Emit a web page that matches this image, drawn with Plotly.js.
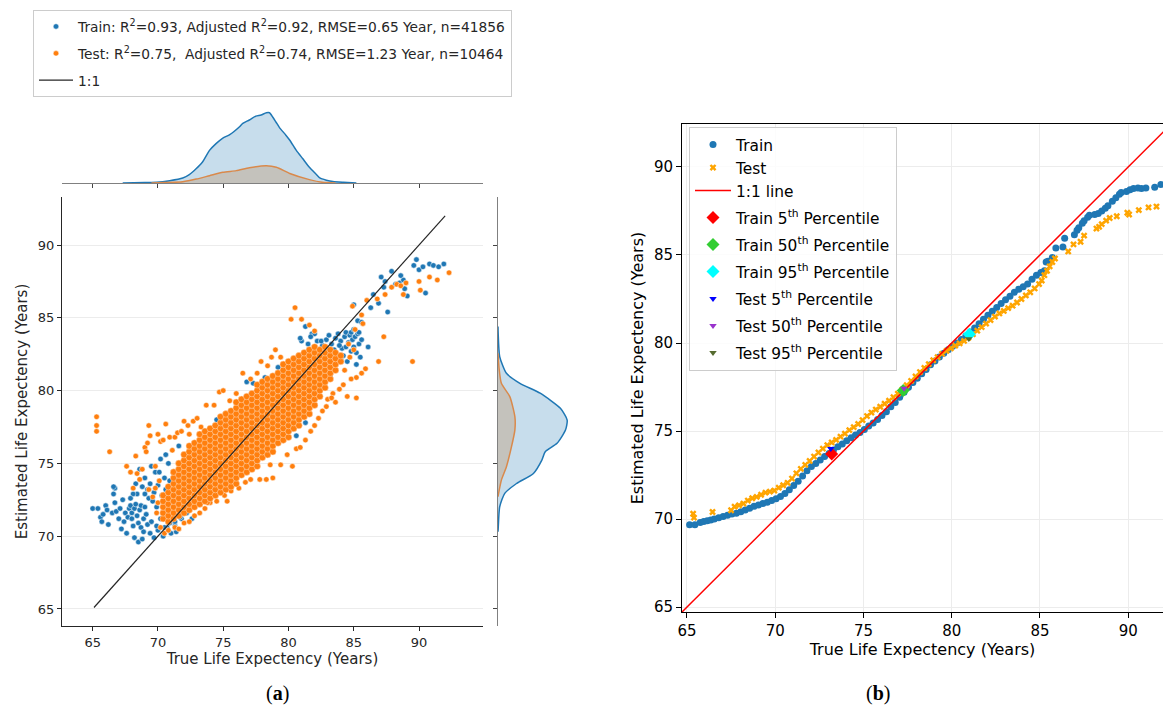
<!DOCTYPE html>
<html><head><meta charset="utf-8">
<script src="https://cdn.plot.ly/plotly-3.0.1.min.js"></script>
<style>html,body{margin:0;padding:0;background:#fff}#chart{width:1163px;height:718px}</style>
</head><body><div id="chart"></div>
<script>
// ---------- Panel (a): scatter of true vs estimated (visible train points) ----------
const trainPts = [
[65.0,71.9],[65.4,71.9],[65.6,71.3],[65.7,71.0],[65.8,71.5],[66.0,72.1],[66.1,71.8],[66.2,70.8],[66.5,71.6],[66.7,72.3],[66.8,71.7],[66.7,73.3],[66.6,72.9],[67.2,70.5],[67.4,71.0],[67.5,71.6],[67.6,70.2],[67.7,71.3],[67.8,71.9],[67.9,72.1],[68.0,71.6],[68.0,71.2],[68.1,70.7],[68.2,71.9],[68.2,69.9],[68.3,72.2],[68.4,71.4],[68.5,70.9],[68.5,69.6],[68.6,71.8],[68.7,72.1],[68.7,70.6],[68.8,69.8],[68.9,71.2],[69.0,72.0],[69.1,71.5],[69.2,70.8],[69.2,73.2],[69.3,72.6],[69.4,73.6],[69.4,70.2],[69.5,71.0],[69.6,72.4],[69.7,69.9],[69.7,73.0],[69.8,74.4],[69.9,72.0],[70.0,70.4],[70.0,73.5],[70.1,74.4],[70.2,71.2],[70.3,72.8],[70.4,70.0],[70.5,74.0],[70.6,73.2],[70.7,70.6],[70.8,75.0],[70.9,73.8],[71.0,70.2],[71.2,74.3],[71.3,70.7],[71.5,73.9],[71.6,76.2],[71.8,71.2],[68.6,74.6],[69.0,74.0],[68.4,72.9],[69.0,72.9],[68.1,72.9],[68.3,73.6],[67.9,72.6],[68.8,73.4],[69.5,74.8],[70.2,75.3],[70.6,75.6],[66.6,73.4],[67.1,71.9],[67.3,72.5],[67.0,71.2],[68.9,70.3],[69.9,70.7],[70.5,70.6],[70.9,70.9],[71.3,71.0],[71.7,71.3],[72.2,71.6],[71.4,70.3],[72.6,71.2],
[81.2,82.6],[81.5,83.2],[81.8,83.9],[82.2,83.4],[82.6,83.1],[82.9,83.5],[83.1,83.8],[83.3,83.2],[83.5,82.8],[83.6,83.6],[83.8,83.9],[84.0,83.4],[84.1,82.9],[84.3,83.7],[84.4,84.0],[84.6,83.3],[84.7,83.8],[84.8,84.0],[84.9,83.5],[85.0,83.0],[85.1,83.7],[85.2,82.6],[85.3,83.9],[85.4,83.2],[85.5,82.3],[85.6,83.5],[84.2,82.4],[83.7,82.3],[83.0,82.6],[85.0,85.9],[85.3,84.8],[85.6,84.7],[86.1,83.0],[85.2,81.8],[84.5,82.0],[80.2,81.6],[80.6,82.0],[81.0,83.4],[80.9,83.6],[81.3,84.4],[82.0,83.9],[82.5,83.4],[81.7,83.7],[83.9,83.1],[84.4,83.0],[85.0,84.2],[84.0,82.1],[83.4,82.4],[84.8,82.7],[85.4,84.0],
[86.5,86.6],[86.9,86.0],[87.1,87.8],[87.3,87.1],[87.6,85.4],[87.9,88.2],[88.2,87.3],[88.5,87.4],[88.8,87.6],[88.9,87.0],[89.1,86.5],[89.6,88.6],[89.8,89.0],[90.0,88.3],[90.3,88.5],[90.5,86.7],[90.8,88.7],[91.1,88.6],[91.5,88.5],[91.9,88.7],[88.6,87.9],[86.3,85.7],[87.4,87.5],
[74.5,78.0],[75.5,77.9],[76.8,80.6],[77.3,80.5],[73.2,76.6],[72.8,76.0],[80.1,77.3],[80.6,76.9],[81.3,77.8],[78.2,80.9],[79.2,81.6],[77.8,80.3],[73.8,73.0],[75.0,73.8],[76.5,74.6],[79.0,76.6],[82.0,79.0],[82.6,80.2],[83.2,81.0]
];
// dense core of the test cloud, read column by column: [true value, [estimated values]]
const testCols = [
[70.4,[71.2,71.6,72.0,72.4,72.8]],
[70.8,[71.0,71.4,71.8,72.2,72.6,73.0,73.4]],
[71.2,[71.2,71.6,72.0,72.4,72.8,73.2,73.6,74.0,74.4]],
[71.6,[71.4,71.8,72.2,72.6,73.0,73.4,73.8,74.2,74.6,75.0]],
[72.0,[71.6,72.0,72.4,72.8,73.2,73.6,74.0,74.4,74.8,75.2,75.6]],
[72.4,[71.8,72.2,72.6,73.0,73.4,73.8,74.2,74.6,75.0,75.4,75.8,76.2]],
[72.8,[72.0,72.4,72.8,73.2,73.6,74.0,74.4,74.8,75.2,75.6,76.0,76.4]],
[73.2,[72.2,72.6,73.0,73.4,73.8,74.2,74.6,75.0,75.4,75.8,76.2,76.6,77.0]],
[73.6,[72.4,72.8,73.2,73.6,74.0,74.4,74.8,75.2,75.6,76.0,76.4,76.8,77.2]],
[74.0,[72.6,73.0,73.4,73.8,74.2,74.6,75.0,75.4,75.8,76.2,76.6,77.0,77.4]],
[74.4,[72.8,73.2,73.6,74.0,74.4,74.8,75.2,75.6,76.0,76.4,76.8,77.2,77.6]],
[74.8,[73.0,73.4,73.8,74.2,74.6,75.0,75.4,75.8,76.2,76.6,77.0,77.4,77.8,78.2]],
[75.2,[73.2,73.6,74.0,74.4,74.8,75.2,75.6,76.0,76.4,76.8,77.2,77.6,78.0,78.4]],
[75.6,[73.4,73.8,74.2,74.6,75.0,75.4,75.8,76.2,76.6,77.0,77.4,77.8,78.2,78.6]],
[76.0,[73.6,74.0,74.4,74.8,75.2,75.6,76.0,76.4,76.8,77.2,77.6,78.0,78.4,78.8,79.2]],
[76.4,[74.2,74.6,75.0,75.4,75.8,76.2,76.6,77.0,77.4,77.8,78.2,78.6,79.0,79.4]],
[76.8,[74.4,74.8,75.2,75.6,76.0,76.4,76.8,77.2,77.6,78.0,78.4,78.8,79.2,79.6]],
[77.2,[74.6,75.0,75.4,75.8,76.2,76.6,77.0,77.4,77.8,78.2,78.6,79.0,79.4,79.8]],
[77.6,[74.8,75.2,75.6,76.0,76.4,76.8,77.2,77.6,78.0,78.4,78.8,79.2,79.6,80.0,80.4]],
[78.0,[75.4,75.8,76.2,76.6,77.0,77.4,77.8,78.2,78.6,79.0,79.4,79.8,80.2,80.6]],
[78.4,[75.6,76.0,76.4,76.8,77.2,77.6,78.0,78.4,78.8,79.2,79.6,80.0,80.4,80.8]],
[78.8,[75.8,76.2,76.6,77.0,77.4,77.8,78.2,78.6,79.0,79.4,79.8,80.2,80.6,81.0]],
[79.2,[76.4,76.8,77.2,77.6,78.0,78.4,78.8,79.2,79.6,80.0,80.4,80.8,81.2]],
[79.6,[76.6,77.0,77.4,77.8,78.2,78.6,79.0,79.4,79.8,80.2,80.6,81.0,81.4,81.8]],
[80.0,[76.8,77.2,77.6,78.0,78.4,78.8,79.2,79.6,80.0,80.4,80.8,81.2,81.6,82.0]],
[80.4,[77.4,77.8,78.2,78.6,79.0,79.4,79.8,80.2,80.6,81.0,81.4,81.8,82.2]],
[80.8,[77.6,78.0,78.4,78.8,79.2,79.6,80.0,80.4,80.8,81.2,81.6,82.0,82.4]],
[81.2,[78.2,78.6,79.0,79.4,79.8,80.2,80.6,81.0,81.4,81.8,82.2,82.6]],
[81.6,[78.4,78.8,79.2,79.6,80.0,80.4,80.8,81.2,81.6,82.0,82.4,82.8]],
[82.0,[79.0,79.4,79.8,80.2,80.6,81.0,81.4,81.8,82.2,82.6,83.0]],
[82.4,[79.6,80.0,80.4,80.8,81.2,81.6,82.0,82.4,82.8]],
[82.8,[80.2,80.6,81.0,81.4,81.8,82.2,82.6,83.0]],
[83.2,[80.8,81.2,81.6,82.0,82.4,82.8]],
[83.6,[81.4,81.8,82.2,82.6]],
[84.0,[82.0,82.4]]
];
// scattered test points outside the dense core
const testOut = [
[65.3,78.2],[65.3,77.6],[65.3,77.2],[66.3,75.8],[67.6,74.8],[67.9,74.4],[68.1,73.3],[68.3,75.5],[68.4,74.3],[68.6,73.9],[68.8,74.6],[69.0,76.1],[69.1,75.8],[69.2,76.4],[69.3,77.6],[69.4,76.9],[69.3,73.2],[69.6,72.7],[69.8,74.8],[70.0,77.0],[70.2,76.5],[70.4,76.6],[70.6,77.7],[70.9,76.8],[71.1,75.9],[71.3,76.8],[71.5,77.1],[71.8,77.2],[72.0,77.9],[72.3,77.6],[72.4,77.0],[72.7,77.9],[73.0,78.1],[73.3,77.5],[73.7,79.0],[74.3,79.0],[74.7,79.9],[75.0,80.0],[75.5,79.3],[76.0,79.8],[76.5,81.2],[77.1,80.8],[77.6,81.2],[77.9,82.0],[78.4,81.7],[78.7,82.3],[79.0,82.8],[79.4,82.3],[80.2,84.9],[80.5,85.7],[81.0,84.9],[81.6,84.5],[82.0,84.1],[84.9,85.8],[85.6,85.2],[85.7,84.6],[86.0,86.2],[86.8,86.3],[87.4,86.6],[87.9,87.1],[88.3,87.3],[88.6,87.2],[89.0,87.4],[88.8,86.6],[90.0,87.5],[90.1,86.9],[90.8,87.8],[91.4,87.6],[92.3,88.1],[89.5,82.0],[87.3,83.7],[86.9,82.0],[85.9,81.5],[85.6,81.2],[85.2,80.9],[85.2,79.5],[84.5,79.6],[84.2,80.4],[84.8,80.8],[85.0,82.8],[84.6,83.2],[85.1,84.2],[84.7,82.3],[84.3,81.4],[83.9,80.1],[83.4,79.8],[83.6,79.2],[83.0,79.4],
[70.2,70.6],[70.5,70.2],[70.8,70.4],[71.3,70.6],[71.6,70.5],[72.0,70.9],[72.4,71.0],[72.8,71.4],[73.2,71.6],[73.6,71.9],[74.0,72.3],[74.5,72.4],[75.1,72.8],[75.6,73.1],[76.2,73.3],[76.7,73.7],[77.1,73.9],[77.8,73.9],[78.3,73.9],[78.8,74.0],[78.6,74.9],[79.4,74.9],[80.3,74.8],[79.9,75.6],[80.6,76.0],[80.9,76.1],[81.3,76.6],[81.7,77.2],[82.0,77.6],[82.3,78.1],[82.6,78.6],[82.9,78.9],[83.3,79.5],[75.3,72.4],[73.8,72.3],[70.1,73.8],[69.8,73.3],[70.0,72.3],[69.9,71.6]
];
const oneToOneA = [65.1, 92.0];

// ---------- marginal KDEs ----------
const topTrainX = [67.3,69.0,69.9,70.9,71.9,72.4,72.9,73.4,73.95,74.45,74.97,75.5,76.25,76.5,77.0,77.5,77.9,78.3,78.55,78.8,79.05,79.3,79.8,80.1,80.6,81.1,81.6,82.1,82.4,82.9,83.4,84.2,85.2];
const topTrainD = [0,0.0008,0.0012,0.0042,0.009,0.015,0.025,0.037,0.058,0.070,0.080,0.086,0.100,0.106,0.112,0.119,0.121,0.125,0.125,0.117,0.108,0.099,0.085,0.076,0.058,0.043,0.028,0.016,0.009,0.005,0.0025,0.0012,0];
const topTestX = [69.5,70.5,71.9,72.93,73.95,74.97,76.0,77.0,78.3,79.07,80.1,81.6,82.6,83.6];
const topTestD = [0,0.0008,0.0024,0.007,0.013,0.019,0.022,0.027,0.0305,0.028,0.017,0.006,0.0012,0];
const rightTrainY = [70.3,70.64,72.02,72.94,73.62,74.31,75.23,75.8,76.38,77.29,77.98,78.78,79.82,80.5,81.19,82.34,83.94,84.4];
const rightTrainD = [0,0.0005,0.003,0.012,0.033,0.063,0.078,0.084,0.105,0.120,0.123,0.111,0.075,0.039,0.015,0.003,0.0003,0];
const rightTestY = [72.71,73.85,74.77,76.15,77.29,78.21,79.59,80.5,81.5,82.57];
const rightTestD = [0,0.006,0.015,0.024,0.030,0.030,0.021,0.006,0.002,0];

// ---------- Panel (b): sorted quantiles ----------
const qqTrainTrue = [65.15,65.45,65.75,65.95,66.15,66.35,66.55,66.8,67.05,67.3,67.55,67.8,68.05,68.3,68.55,68.8,69.05,69.3,69.55,69.8,70.05,70.3,70.55,70.8,71.05,71.3,71.55,71.8,72.05,72.3,72.55,72.8,73.05,73.3,73.55,73.8,74.05,74.3,74.55,74.8,75.05,75.3,75.55,75.8,76.05,76.3,76.55,76.8,77.05,77.3,77.55,77.8,78.05,78.3,78.55,78.8,79.05,79.3,79.55,79.8,80.05,80.3,80.55,80.8,81.05,81.3,81.55,81.8,82.05,82.3,82.55,82.8,83.05,83.3,83.55,83.8,84.05,84.3,84.55,84.8,85.05,85.25,85.35,85.45,85.7,85.9,86.3,86.4,86.95,87.1,87.2,87.4,87.5,87.7,87.8,88.1,88.3,88.5,88.7,88.85,89.1,89.3,89.5,89.6,89.9,90.1,90.3,90.55,90.75,91.0,91.5,91.85];
const qqTrainPred = [69.68,69.68,69.8,69.86,69.9,69.95,70.0,70.08,70.15,70.22,70.28,70.33,70.42,70.52,70.62,70.72,70.8,70.88,70.96,71.05,71.15,71.28,71.45,71.66,71.9,72.15,72.45,72.75,72.98,73.15,73.35,73.55,73.72,73.92,74.1,74.26,74.45,74.62,74.78,74.92,75.08,75.28,75.45,75.65,75.88,76.1,76.38,76.62,76.92,77.2,77.48,77.75,78.0,78.25,78.5,78.76,78.98,79.2,79.42,79.62,79.82,80.0,80.2,80.4,80.62,80.85,81.1,81.35,81.58,81.8,82.02,82.25,82.45,82.65,82.88,83.05,83.2,83.35,83.62,83.85,84.0,84.1,84.6,84.65,84.85,85.4,85.45,85.95,86.15,86.4,86.55,86.8,86.95,87.15,87.25,87.3,87.35,87.5,87.65,87.8,88.05,88.25,88.45,88.55,88.6,88.7,88.78,88.8,88.78,88.8,88.85,89.0];
const qqTestTrue = [65.35,65.4,66.45,67.5,67.7,67.95,68.2,68.45,68.7,68.95,69.2,69.45,69.7,69.95,70.2,70.45,70.7,70.95,71.2,71.45,71.7,71.95,72.2,72.45,72.7,72.95,73.2,73.45,73.7,73.95,74.2,74.45,74.7,74.95,75.2,75.45,75.7,75.95,76.2,76.45,76.7,76.95,77.2,77.45,77.7,77.95,78.2,78.45,78.7,78.95,79.2,79.45,79.7,79.95,80.2,80.45,80.7,80.95,81.2,81.45,81.7,81.95,82.2,82.45,82.7,82.95,83.2,83.45,83.7,83.95,84.2,84.45,84.7,84.95,85.1,85.25,85.4,85.55,85.7,85.85,86.6,86.9,87.3,87.5,88.2,88.35,88.5,88.75,88.95,89.35,89.95,90.05,90.6,91.15,91.6];
const qqTestPred = [70.3,70.08,70.4,70.5,70.7,70.78,70.88,71.05,71.18,71.26,71.38,71.5,71.56,71.62,71.78,71.92,72.06,72.3,72.6,72.85,73.08,73.3,73.55,73.78,74.0,74.2,74.35,74.5,74.68,74.85,75.05,75.22,75.4,75.62,75.85,76.05,76.22,76.38,76.55,76.72,76.92,77.12,77.35,77.6,77.85,78.1,78.35,78.58,78.8,79.02,79.2,79.38,79.55,79.7,79.85,79.98,80.12,80.3,80.5,80.7,80.9,81.1,81.3,81.5,81.68,81.82,81.98,82.12,82.3,82.5,82.7,82.88,83.1,83.35,83.55,83.85,84.1,84.35,84.6,84.8,85.2,85.6,85.75,86.1,86.5,86.6,86.75,86.95,87.1,87.2,87.4,87.3,87.55,87.7,87.75];
const oneToOneB = [64.0, 93.0];
const pctNames = ['Train 5<sup>th</sup> Percentile','Train 50<sup>th</sup> Percentile','Train 95<sup>th</sup> Percentile','Test 5<sup>th</sup> Percentile','Test 50<sup>th</sup> Percentile','Test 95<sup>th</sup> Percentile'];
const pctTrue = [73.2, 77.25, 81.0, 73.15, 77.3, 80.97];
const pctPred = [73.7, 77.3, 80.5, 74.0, 77.42, 80.24];
const pctColors = ['#ff0000','#32cd32','#00ffff','#0000ff','#9932cc','#556b2f'];
const pctSymbols = ['diamond','diamond','diamond','triangle-down','triangle-down','triangle-down'];
const pctSizes = [10,10,10,6.5,6.5,6.5];

const legendA = ['Train: R<sup>2</sup>=0.93, Adjusted R<sup>2</sup>=0.92, RMSE=0.65 Year, n=41856',
                 'Test: R<sup>2</sup>=0.75,\u00a0 Adjusted R<sup>2</sup>=0.74, RMSE=1.23 Year, n=10464',
                 '1:1'];

// ---------- build ----------
const coreX = [], coreY = [];
testCols.forEach(c => c[1].forEach(v => { coreX.push(c[0]); coreY.push(v); }));

const BLUE = '#1f77b4', ORANGE = '#ff7f0e';
const traces = [];
// marginal KDEs
traces.push({x: topTrainX, y: topTrainD, xaxis:'x2', yaxis:'y2', mode:'lines', line:{color:BLUE, width:1.5, shape:'spline', smoothing:0.6}, fill:'tozeroy', fillcolor:'rgba(31,119,180,0.25)', showlegend:false, hoverinfo:'skip'});
traces.push({x: topTestX, y: topTestD, xaxis:'x2', yaxis:'y2', mode:'lines', line:{color:'#d9894b', width:1.5, shape:'spline', smoothing:0.6}, fill:'tozeroy', fillcolor:'rgb(196,194,188)', showlegend:false, hoverinfo:'skip'});
traces.push({x: rightTrainD, y: rightTrainY, xaxis:'x3', yaxis:'y3', mode:'lines', line:{color:BLUE, width:1.5, shape:'spline', smoothing:0.6}, fill:'tozerox', fillcolor:'rgba(31,119,180,0.25)', showlegend:false, hoverinfo:'skip'});
traces.push({x: rightTestD, y: rightTestY, xaxis:'x3', yaxis:'y3', mode:'lines', line:{color:'#d9894b', width:1.5, shape:'spline', smoothing:0.6}, fill:'tozerox', fillcolor:'rgb(196,194,188)', showlegend:false, hoverinfo:'skip'});
// main scatter (a)
traces.push({x: trainPts.map(p=>p[0]), y: trainPts.map(p=>p[1]), xaxis:'x', yaxis:'y', mode:'markers', type:'scatter', name: legendA[0], legend:'legend', legendgroup:'a1',
  marker:{color:BLUE, size:5.5, line:{color:'white', width:0.5}}});
traces.push({x: testOut.map(p=>p[0]), y: testOut.map(p=>p[1]), xaxis:'x', yaxis:'y', mode:'markers', type:'scatter', name: legendA[1], legend:'legend', legendgroup:'a2',
  marker:{color:ORANGE, size:5.5, line:{color:'white', width:0.5}}});
traces.push({x: coreX, y: coreY, xaxis:'x', yaxis:'y', mode:'markers', type:'scatter', name: legendA[1], showlegend:false, legendgroup:'a2',
  marker:{color:ORANGE, size:6.6, line:{color:'#ffd9b8', width:0.5}}});
traces.push({x: oneToOneA, y: oneToOneA, xaxis:'x', yaxis:'y', mode:'lines', name: legendA[2], legend:'legend', legendgroup:'a3', line:{color:'#262626', width:1.2}});
// panel (b)
traces.push({x: qqTrainTrue, y: qqTrainPred, xaxis:'x4', yaxis:'y4', mode:'markers', name:'Train', legend:'legend2', legendgroup:'b0', marker:{color:BLUE, size:7}});
traces.push({x: qqTestTrue, y: qqTestPred, xaxis:'x4', yaxis:'y4', mode:'markers', name:'Test', legend:'legend2', legendgroup:'b0', marker:{color:'#ffa500', size:6, symbol:'x'}});
traces.push({x: oneToOneB, y: oneToOneB, xaxis:'x4', yaxis:'y4', mode:'lines', name:'1:1 line', legend:'legend2', legendgroup:'b0', line:{color:'#ff0000', width:1.5}});
pctNames.forEach((n,i) => traces.push({x:[pctTrue[i]], y:[pctPred[i]], xaxis:'x4', yaxis:'y4', mode:'markers', name:n, legend:'legend2', legendgroup:'p'+i,
  marker:{color:pctColors[i], size:pctSizes[i], symbol:pctSymbols[i]}}));

const W = 1163, H = 718;
const px = v => v / W, py = v => (H - v) / H;
const TV = [65,70,75,80,85,90];
const darkA = '#262626';
const layout = {
  width: W, height: H, margin:{l:0,r:0,t:0,b:0}, paper_bgcolor:'white', plot_bgcolor:'rgba(0,0,0,0)',
  font:{family:'DejaVu Sans', color:darkA},
  xaxis:{domain:[px(62),px(483)], range:[62.65,94.9], anchor:'y', showline:true, linecolor:darkA, linewidth:1, ticks:'outside', ticklen:4, tickcolor:darkA, tickvals:TV,
    showgrid:false, zeroline:false, tickfont:{size:13,color:darkA}, title:{text:'True Life Expectency (Years)', font:{size:15,color:darkA}, standoff:4}},
  yaxis:{domain:[py(626),py(197)], range:[63.83,93.3], anchor:'x', showline:true, linecolor:darkA, linewidth:1, ticks:'outside', ticklen:4, tickcolor:darkA, tickvals:TV,
    showgrid:true, gridcolor:'#ececec', zeroline:false, tickfont:{size:13,color:darkA}, title:{text:'Estimated Life Expectency (Years)', font:{size:15,color:darkA}, standoff:6}},
  xaxis2:{domain:[px(62),px(483)], range:[62.65,94.9], anchor:'y2', showline:true, linecolor:'#808080', linewidth:1, ticks:'outside', ticklen:4, tickcolor:'#444', tickvals:TV,
    showticklabels:false, showgrid:false, zeroline:false},
  yaxis2:{domain:[py(183),py(100)], range:[0,0.1476], anchor:'x2', visible:false},
  xaxis3:{domain:[px(498),px(581)], range:[0,0.1476], anchor:'y3', visible:false},
  yaxis3:{domain:[py(626),py(197)], range:[63.83,93.3], anchor:'x3', showline:true, linecolor:'#808080', linewidth:1, ticks:'outside', ticklen:4, tickcolor:'#444', tickvals:TV,
    showticklabels:false, showgrid:false, zeroline:false},
  xaxis4:{domain:[px(682),1], range:[64.72,91.97], anchor:'y4', showline:true, mirror:true, linecolor:'black', linewidth:1, ticks:'outside', ticklen:5, tickcolor:'black', tickvals:TV,
    showgrid:true, gridcolor:'#ececec', zeroline:false, tickfont:{size:15,color:'black'}, title:{text:'True Life Expectency (Years)', font:{size:16,color:'black'}, standoff:4}},
  yaxis4:{domain:[py(612),py(124)], range:[64.72,92.44], anchor:'x4', showline:true, linecolor:'black', linewidth:1, ticks:'outside', ticklen:5, tickcolor:'black', tickvals:TV,
    showgrid:true, gridcolor:'#ececec', zeroline:false, tickfont:{size:15,color:'black'}, title:{text:'Estimated Life Expectency (Years)', font:{size:16,color:'black'}, standoff:6}},
  legend:{x:px(33), y:py(10), xanchor:'left', yanchor:'top', bgcolor:'rgba(255,255,255,0.85)', bordercolor:'#cccccc', borderwidth:1,
    font:{size:13.75,color:darkA}, tracegroupgap:6, itemsizing:'trace', itemwidth:34},
  legend2:{x:px(689), y:py(127), xanchor:'left', yanchor:'top', bgcolor:'rgba(255,255,255,0.85)', bordercolor:'#cccccc', borderwidth:1,
    font:{size:15.4,color:'black'}, tracegroupgap:4, itemsizing:'trace', itemwidth:36},
  annotations:[
    {text:'(<b>a</b>)', x:px(264), y:py(707), xref:'paper', yref:'paper', showarrow:false, font:{family:'Liberation Serif', size:20, color:'black'}},
    {text:'(<b>b</b>)', x:px(892), y:py(707), xref:'paper', yref:'paper', showarrow:false, font:{family:'Liberation Serif', size:20, color:'black'}}
  ]
};
Plotly.newPlot('chart', traces, layout, {staticPlot:true, displayModeBar:false});
</script>
</body></html>
